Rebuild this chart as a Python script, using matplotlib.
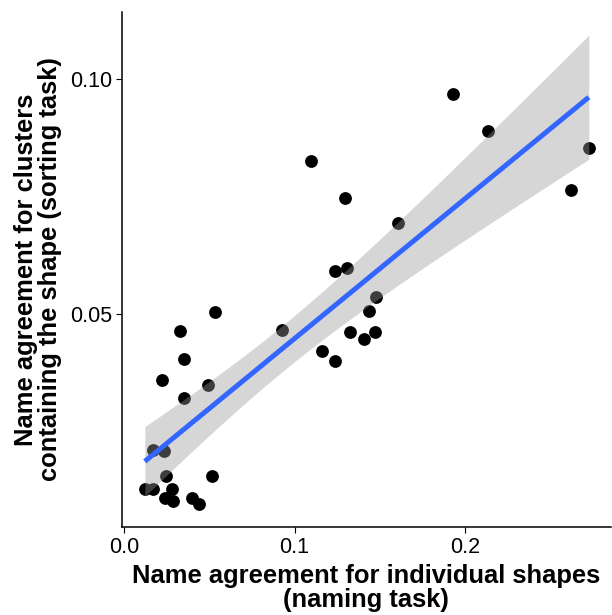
import numpy as np
import matplotlib
matplotlib.use("Agg")
import matplotlib.pyplot as plt

plt.rcParams['font.family'] = ['Liberation Sans', 'DejaVu Sans']

# naming task agreement (x) vs sorting task agreement (y), one value per shape
naming = [0.1928, 0.2132, 0.2726, 0.2623, 0.1094, 0.1298, 0.1608, 0.1238,
          0.1306, 0.1477, 0.1436, 0.1325, 0.1471, 0.1409, 0.0924, 0.1160,
          0.1240, 0.0534, 0.0326, 0.0351, 0.0225, 0.0491, 0.0351, 0.0171,
          0.0235, 0.0244, 0.0516, 0.0122, 0.0171, 0.0281, 0.0239, 0.0287,
          0.0398, 0.0442]
sorting = [0.0968, 0.0889, 0.0853, 0.0765, 0.0826, 0.0748, 0.0695, 0.0591,
           0.0599, 0.0536, 0.0507, 0.0462, 0.0462, 0.0447, 0.0466, 0.0421,
           0.0401, 0.0504, 0.0464, 0.0404, 0.0360, 0.0350, 0.0322, 0.0211,
           0.0209, 0.0155, 0.0155, 0.0128, 0.0128, 0.0129, 0.0109, 0.0103,
           0.0109, 0.0096]

x_ticks = [0.0, 0.1, 0.2]
x_labels = ["0.0", "0.1", "0.2"]
y_ticks = [0.05, 0.10]
y_labels = ["0.05", "0.10"]

x = np.array(naming)
y = np.array(sorting)

# linear fit with 95% confidence band (like geom_smooth(method = "lm"))
n = len(x)
slope, intercept = np.polyfit(x, y, 1)
resid = y - (slope * x + intercept)
s = np.sqrt(np.sum(resid ** 2) / (n - 2))
t_crit = 2.037  # t(0.975, df=32)
xs = np.linspace(x.min(), x.max(), 100)
ys = slope * xs + intercept
se = s * np.sqrt(1 / n + (xs - x.mean()) ** 2 / np.sum((x - x.mean()) ** 2))

fig = plt.figure(figsize=(6.12, 6.15), dpi=100)
ax = fig.add_axes([0.199, 0.143, 0.799, 0.8375])

ax.scatter(x, y, s=85, color='black', linewidths=0, zorder=2)
ax.fill_between(xs, ys - t_crit * se, ys + t_crit * se, color='#999999',
                alpha=0.4, linewidth=0, zorder=3)
ax.plot(xs, ys, color='#3366FF', linewidth=3.6, solid_capstyle='butt', zorder=4)

ax.set_xlim(-0.0013, 0.2855)
ax.set_ylim(0.0047, 0.1143)

ax.set_xticks(x_ticks)
ax.set_xticklabels(x_labels)
ax.set_yticks(y_ticks)
ax.set_yticklabels(y_labels)
ax.tick_params(labelsize=15.5, length=4, width=0.8, colors='black', pad=3)

for side in ['top', 'right']:
    ax.spines[side].set_visible(False)
for side in ['left', 'bottom']:
    ax.spines[side].set_linewidth(1.1)

ax.set_xlabel("Name agreement for individual shapes\n(naming task)",
              fontsize=18.4, fontweight='bold', linespacing=1.0, labelpad=4.5)
ax.set_ylabel("Name agreement for clusters\ncontaining the shape (sorting task)",
              fontsize=18.4, fontweight='bold', linespacing=1.0, labelpad=6)

fig.savefig("out.png", dpi=100)
